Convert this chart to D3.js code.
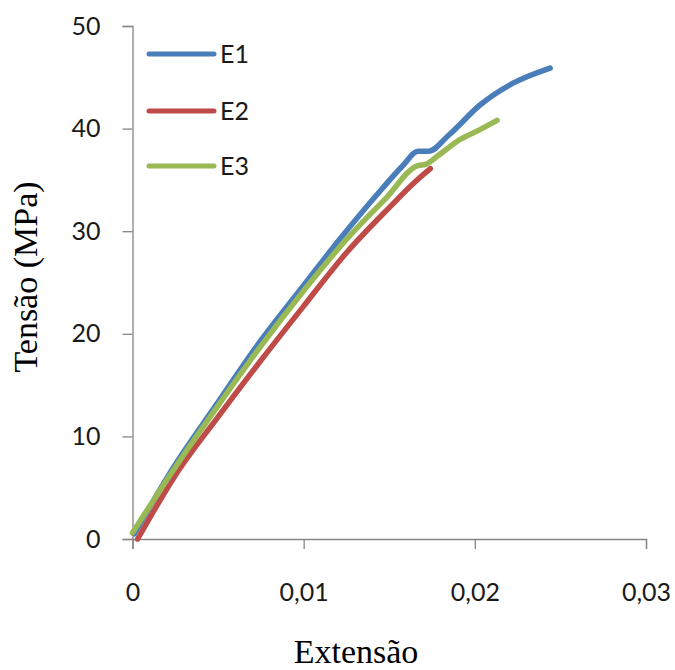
<!DOCTYPE html>
<html>
<head>
<meta charset="utf-8">
<script src="https://cdn.jsdelivr.net/npm/d3@7"></script>
<style>
  html, body { margin: 0; padding: 0; background: #fff; }
</style>
</head>
<body>
<svg id="chart" width="675" height="670"></svg>
<script>
// strain / stress readings for each specimen
const e1Strain = [0.0001, 0.0024, 0.0049, 0.0073, 0.0098, 0.0122, 0.0142, 0.0158, 0.01667, 0.0173, 0.0185, 0.0203, 0.0222, 0.0244];
const e1Stress = [0.5, 7.0, 13.1, 18.9, 24.3, 29.4, 33.4, 36.4, 37.8, 37.8, 39.4, 42.3, 44.4, 45.9];

const e2Strain = [0.0003, 0.0025, 0.005, 0.0075, 0.01, 0.0125, 0.015, 0.0165, 0.0174];
const e2Stress = [0, 6.2, 11.9, 17.4, 22.7, 27.9, 32.3, 34.8, 36.1];

const e3Strain = [0, 0.0025, 0.005, 0.0075, 0.01, 0.0125, 0.0148, 0.01668, 0.0171, 0.0178, 0.0191, 0.0203, 0.0213];
const e3Stress = [0.6, 7.0, 13.0, 18.8, 24.2, 29.2, 33.2, 36.4, 36.5, 37.3, 38.9, 39.9, 40.8];

const seriesNames = ['E1', 'E2', 'E3'];
const seriesColors = ['#4A7EBB', '#BE4B48', '#98B954'];
const xTicks = [0, 0.01, 0.02, 0.03];
const yTicks = [0, 10, 20, 30, 40, 50];

const svg = d3.select('#chart');
const axisColor = '#868686';

const x = d3.scaleLinear().domain([0, 0.03]).range([132.5, 646]);
const y = d3.scaleLinear().domain([0, 50]).range([539, 26]);

svg.append('rect')
  .attr('width', 675)
  .attr('height', 670)
  .attr('fill', '#fff');

// y axis
let yAxis = svg.append('g')
  .attr('transform', 'translate(132.5,0)')
  .call(d3.axisLeft(y).tickValues(yTicks).tickSize(10).tickPadding(22).tickFormat(d3.format('d')));

// x axis
let xAxis = svg.append('g')
  .attr('transform', 'translate(0,539)')
  .call(d3.axisBottom(x).tickValues(xTicks).tickSize(10).tickPadding(34)
    .tickFormat(d => d === 0 ? '0' : d3.format('.2f')(d).replace('.', ',')));

[xAxis, yAxis].forEach(function(ax) {
  ax.select('.domain').attr('stroke', axisColor).attr('stroke-width', 1.3);
  ax.selectAll('.tick line').attr('stroke', axisColor).attr('stroke-width', 1.3);
  ax.selectAll('.tick text')
    .attr('fill', '#1a1a1a')
    .style('font-family', 'Lato, "Open Sans", sans-serif')
    .style('font-size', '25px');
});

// series, drawn in order so E3 sits on top
const series = [
  { name: seriesNames[0], xs: e1Strain, ys: e1Stress },
  { name: seriesNames[1], xs: e2Strain, ys: e2Stress },
  { name: seriesNames[2], xs: e3Strain, ys: e3Stress },
];

const lineFunction = d3.line()
  .curve(d3.curveMonotoneX)
  .x(function(d) { return x(d[0]); })
  .y(function(d) { return y(d[1]); });

series.forEach(function(s, i) {
  let data = s.xs.map(function(v, j) { return [v, s.ys[j]]; });
  svg.append('path')
    .attr('d', lineFunction(data))
    .attr('fill', 'none')
    .attr('stroke', seriesColors[i])
    .attr('stroke-width', 5.5)
    .attr('stroke-linecap', 'round')
    .attr('stroke-linejoin', 'round');
});

// legend
const legendY = [54, 111, 166];
seriesNames.forEach(function(name, i) {
  svg.append('line')
    .attr('x1', 149)
    .attr('x2', 214)
    .attr('y1', legendY[i])
    .attr('y2', legendY[i])
    .attr('stroke', seriesColors[i])
    .attr('stroke-width', 5)
    .attr('stroke-linecap', 'round');
  svg.append('text')
    .attr('x', 220)
    .attr('y', legendY[i] + 9)
    .attr('fill', '#1a1a1a')
    .style('font-family', 'Lato, "Open Sans", sans-serif')
    .style('font-size', '25px')
    .text(name);
});

// axis titles
svg.append('text')
  .attr('transform', 'translate(37,277) rotate(-90)')
  .attr('text-anchor', 'middle')
  .attr('fill', '#000')
  .style('font-family', '"Liberation Serif", "Times New Roman", serif')
  .style('font-size', '34px')
  .text('Tensão (MPa)');

svg.append('text')
  .attr('x', 356)
  .attr('y', 663)
  .attr('text-anchor', 'middle')
  .attr('fill', '#000')
  .style('font-family', '"Liberation Serif", "Times New Roman", serif')
  .style('font-size', '34px')
  .text('Extensão');
</script>
</body>
</html>
